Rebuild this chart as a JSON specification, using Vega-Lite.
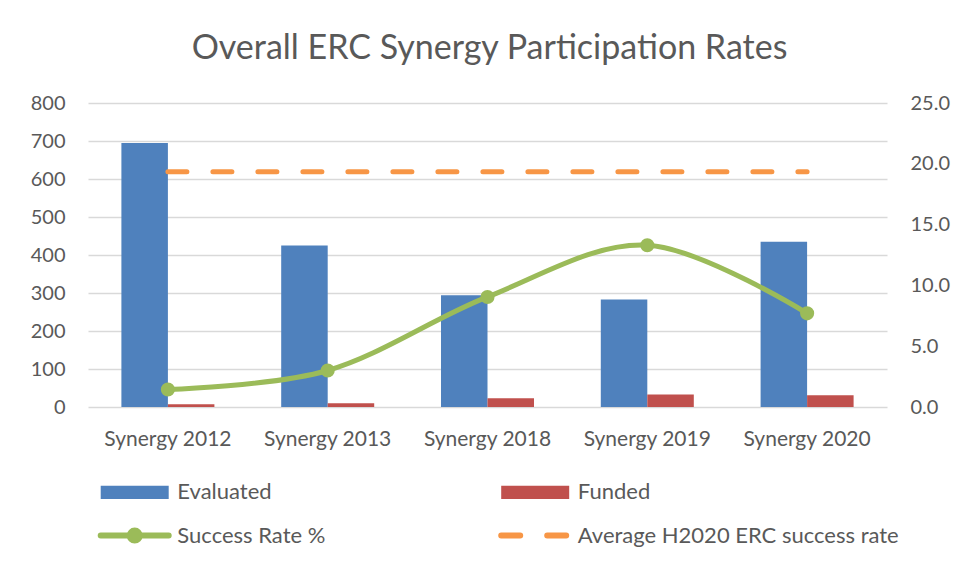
{
  "$schema": "https://vega.github.io/schema/vega-lite/v6.json",
  "width": 799,
  "height": 304,
  "autosize": {"type": "none"},
  "padding": {"left": 88, "top": 103, "right": 72, "bottom": 162},
  "background": "white",
  "config": {
    "view": {"stroke": null},
    "font": "Lato"
  },
  "title": {
    "text": "Overall ERC Synergy Participation Rates",
    "fontSize": 34,
    "font": "Lato",
    "fontWeight": "normal",
    "color": "#595959",
    "anchor": "middle",
    "frame": "group",
    "baseline": "alphabetic",
    "offset": 0,
    "dx": 2
  },
  "datasets": {
    "bars": [
      {"cat": "Synergy 2012", "series": "Evaluated", "value": 695},
      {"cat": "Synergy 2012", "series": "Funded", "value": 7},
      {"cat": "Synergy 2013", "series": "Evaluated", "value": 425},
      {"cat": "Synergy 2013", "series": "Funded", "value": 10},
      {"cat": "Synergy 2018", "series": "Evaluated", "value": 294},
      {"cat": "Synergy 2018", "series": "Funded", "value": 23},
      {"cat": "Synergy 2019", "series": "Evaluated", "value": 283},
      {"cat": "Synergy 2019", "series": "Funded", "value": 33},
      {"cat": "Synergy 2020", "series": "Evaluated", "value": 435},
      {"cat": "Synergy 2020", "series": "Funded", "value": 31}
    ],
    "rate": [
      {"cat": "Synergy 2012", "series": "Success Rate %", "rate": 1.44},
      {"cat": "Synergy 2013", "series": "Success Rate %", "rate": 3.0},
      {"cat": "Synergy 2018", "series": "Success Rate %", "rate": 9.05},
      {"cat": "Synergy 2019", "series": "Success Rate %", "rate": 13.3},
      {"cat": "Synergy 2020", "series": "Success Rate %", "rate": 7.7}
    ],
    "avg": [
      {"cat": "Synergy 2012", "series": "Average H2020 ERC success rate", "rate": 19.35},
      {"cat": "Synergy 2013", "series": "Average H2020 ERC success rate", "rate": 19.35},
      {"cat": "Synergy 2018", "series": "Average H2020 ERC success rate", "rate": 19.35},
      {"cat": "Synergy 2019", "series": "Average H2020 ERC success rate", "rate": 19.35},
      {"cat": "Synergy 2020", "series": "Average H2020 ERC success rate", "rate": 19.35}
    ]
  },
  "layer": [
    {
      "data": {"name": "bars"},
      "mark": {"type": "bar"},
      "encoding": {
        "x": {
          "field": "cat",
          "type": "nominal",
          "sort": null,
          "scale": {"paddingInner": 0.418, "paddingOuter": 0.209},
          "axis": {
            "title": null,
            "labelAngle": 0,
            "domain": false,
            "ticks": false,
            "labelFontSize": 21,
            "labelColor": "#595959",
            "labelPadding": 21
          }
        },
        "xOffset": {
          "field": "series",
          "type": "nominal",
          "sort": ["Evaluated", "Funded"],
          "scale": {"paddingInner": 0, "paddingOuter": 0}
        },
        "y": {
          "field": "value",
          "type": "quantitative",
          "scale": {"domain": [0, 800], "nice": false},
          "axis": {
            "orient": "left",
            "values": [0, 100, 200, 300, 400, 500, 600, 700, 800],
            "title": null,
            "domain": false,
            "ticks": false,
            "grid": true,
            "gridColor": "#D9D9D9",
            "gridWidth": 1.5,
            "labelFontSize": 20,
            "labelColor": "#595959",
            "labelPadding": 23
          }
        },
        "color": {
          "field": "series",
          "type": "nominal",
          "scale": {
            "domain": ["Evaluated", "Funded", "Success Rate %", "Average H2020 ERC success rate"],
            "range": ["#4F81BD", "#C0504D", "#9BBB59", "#F79646"]
          },
          "legend": {
            "orient": "none",
            "legendX": 35.7,
            "legendY": 378.4,
            "columns": 2,
            "direction": "horizontal",
            "title": null,
            "padding": 0,
            "symbolSize": 1600,
            "symbolOpacity": 1,
            "labelFontSize": 22,
            "labelColor": "#595959",
            "labelOffset": 31.65,
            "columnPadding": 163.5,
            "rowPadding": 15.2,
            "labelLimit": 500,
            "encode": {
              "symbols": {
                "update": {
                  "shape": {"signal": "datum.value === 'Success Rate %' ? 'M-1.7,0L1.7,0M0.25,0A0.25,0.25,0,1,1,-0.25,0A0.25,0.25,0,1,1,0.25,0' : datum.value === 'Average H2020 ERC success rate' ? 'M-1.7,0L-0.75,0M0.6,0L1.55,0' : 'M-1.7,-0.33L1.7,-0.33L1.7,0.33L-1.7,0.33Z'"},
                  "fill": {"signal": "datum.value === 'Evaluated' ? '#4F81BD' : datum.value === 'Funded' ? '#C0504D' : datum.value === 'Success Rate %' ? '#9BBB59' : 'transparent'"},
                  "stroke": {"signal": "datum.value === 'Evaluated' ? '#4F81BD' : datum.value === 'Funded' ? '#C0504D' : datum.value === 'Success Rate %' ? '#9BBB59' : '#F79646'"},
                  "strokeWidth": {"signal": "datum.value === 'Evaluated' || datum.value === 'Funded' ? 0 : 6"},
                  "strokeCap": {"value": "round"},
                  "opacity": {"value": 1},
                  "fillOpacity": {"value": 1},
                  "strokeOpacity": {"value": 1}
                }
              }
            }
          }
        }
      }
    },
    {
      "data": {"name": "rate"},
      "mark": {
        "type": "line",
        "interpolate": "cardinal",
        "tension": 0,
        "strokeWidth": 5,
        "point": {"filled": true, "size": 200, "opacity": 1}
      },
      "encoding": {
        "x": {"field": "cat", "type": "nominal", "sort": null},
        "y": {
          "field": "rate",
          "type": "quantitative",
          "scale": {"domain": [0, 25], "nice": false},
          "axis": {
            "orient": "right",
            "values": [0, 5, 10, 15, 20, 25],
            "format": ".1f",
            "title": null,
            "domain": false,
            "ticks": false,
            "grid": false,
            "labelFontSize": 20,
            "labelColor": "#595959",
            "labelPadding": 23
          }
        },
        "color": {"field": "series", "type": "nominal"}
      }
    },
    {
      "data": {"name": "avg"},
      "mark": {
        "type": "line",
        "strokeWidth": 5,
        "strokeDash": [19, 26],
        "strokeCap": "round"
      },
      "encoding": {
        "x": {"field": "cat", "type": "nominal", "sort": null},
        "y": {
          "field": "rate",
          "type": "quantitative",
          "scale": {"domain": [0, 25], "nice": false},
          "axis": null
        },
        "color": {"field": "series", "type": "nominal"}
      }
    }
  ],
  "resolve": {"scale": {"y": "independent"}}
}
